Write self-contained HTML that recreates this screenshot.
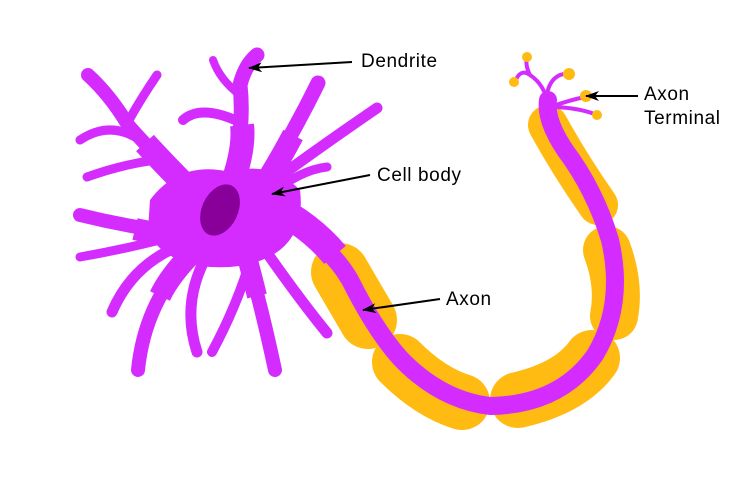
<!DOCTYPE html>
<html><head><style>body{margin:0;background:#fff}svg{display:block}text{font-family:"Liberation Sans",sans-serif;font-size:19px;letter-spacing:0.6px;fill:#000}</style></head>
<body>
<svg width="750" height="500" viewBox="0 0 750 500" xmlns="http://www.w3.org/2000/svg">
<defs><marker id="a" markerWidth="14" markerHeight="10" refX="13" refY="5" orient="auto" markerUnits="userSpaceOnUse"><path d="M0,0 L14,5 L0,10 L4,5 Z" fill="#000"/></marker></defs>
<g stroke="#ffbb11" stroke-linecap="round" fill="none">
<path d="M340,272 L368,320" stroke-width="58"/>
<path d="M400,362 Q430,392 462,402" stroke-width="56"/>
<path d="M518,400 Q570,388 592,358" stroke-width="56"/>
<path d="M607,250 Q620,285 614,316" stroke-width="48"/>
<path d="M548,125 Q570,165 598,205" stroke-width="40"/>
</g>
<path d="M280,215 Q330,245 350,280 Q375,330 400,358 Q440,400 490,406 Q560,405 595,355 Q625,305 610,240 Q595,190 565,150 Q545,120 548,100" stroke="#d42cff" stroke-width="18" fill="none" stroke-linecap="round"/>
<path d="M270,205 Q310,225 335,255" stroke="#d42cff" stroke-width="28" fill="none"/>
<g stroke="#d42cff" stroke-width="4" fill="none" stroke-linecap="round">
<path d="M548,105 Q545,85 530,75 Q520,68 515,82"/>
<path d="M530,75 Q525,65 527,58"/>
<path d="M546,100 Q548,80 560,75 Q566,73 568,75"/>
<path d="M550,107 Q570,100 585,97"/>
<path d="M555,107 Q580,108 597,115"/>
</g>
<g fill="#ffbb11"><circle cx="527" cy="57" r="5"/><circle cx="514" cy="82" r="5"/><circle cx="569" cy="74" r="6"/><circle cx="586" cy="96" r="6"/><circle cx="597" cy="115" r="5"/></g>
<g stroke="#d42cff" fill="none" stroke-linecap="round">
<path d="M200,200 Q150,150 128,125 Q110,95 88,75" stroke-width="14"/>
<path d="M128,122 Q140,100 157,75" stroke-width="9"/>
<path d="M140,140 Q110,120 80,140" stroke-width="9"/>
<path d="M155,160 Q120,165 87,177" stroke-width="9"/>
<path d="M230,190 Q245,130 240,85 Q245,65 257,55" stroke-width="15"/>
<path d="M240,95 Q220,80 213,60" stroke-width="8"/>
<path d="M235,120 Q200,105 183,120" stroke-width="10"/>
<path d="M255,195 Q290,140 318,83" stroke-width="15"/>
<path d="M275,180 Q330,140 377,108" stroke-width="11"/>
<path d="M270,195 Q300,170 327,167" stroke-width="9"/>
<path d="M200,235 Q140,230 80,215" stroke-width="14"/>
<path d="M160,240 Q120,250 80,257" stroke-width="9"/>
<path d="M170,250 Q130,270 112,312" stroke-width="11"/>
<path d="M195,250 Q145,300 138,370" stroke-width="14"/>
<path d="M210,250 Q180,300 197,352" stroke-width="11"/>
<path d="M245,250 Q260,300 275,370" stroke-width="14"/>
<path d="M255,245 Q240,300 212,352" stroke-width="10"/>
<path d="M265,250 Q300,300 327,333" stroke-width="11"/>
</g>
<g stroke="#d42cff" fill="none" stroke-linecap="butt">
<path d="M200,200 Q165,165 145,143" stroke-width="24"/>
<path d="M230,190 Q245,150 242,125" stroke-width="24"/>
<path d="M258,195 Q280,160 293,135" stroke-width="22"/>
<path d="M190,235 Q160,235 135,229" stroke-width="22"/>
<path d="M195,250 Q170,275 160,296" stroke-width="22"/>
<path d="M245,250 Q252,275 257,296" stroke-width="20"/>
</g>
<path d="M150,200 Q180,160 230,172 Q270,160 300,190 Q305,230 280,250 Q250,272 200,266 Q158,258 148,230 Z" fill="#d42cff"/>
<ellipse cx="220" cy="210" rx="18" ry="27" transform="rotate(25 220 210)" fill="#880099"/>
<g stroke="#000" stroke-width="2">
<line x1="352" y1="62" x2="249" y2="68" marker-end="url(#a)"/>
<line x1="370" y1="175" x2="272" y2="194" marker-end="url(#a)"/>
<line x1="440" y1="299" x2="363" y2="310" marker-end="url(#a)"/>
<line x1="638" y1="96" x2="586" y2="96" marker-end="url(#a)"/>
</g>
<text x="361" y="67">Dendrite</text>
<text x="377" y="181">Cell body</text>
<text x="446" y="305">Axon</text>
<text x="644" y="100">Axon</text>
<text x="644" y="124">Terminal</text>
</svg>
</body></html>
